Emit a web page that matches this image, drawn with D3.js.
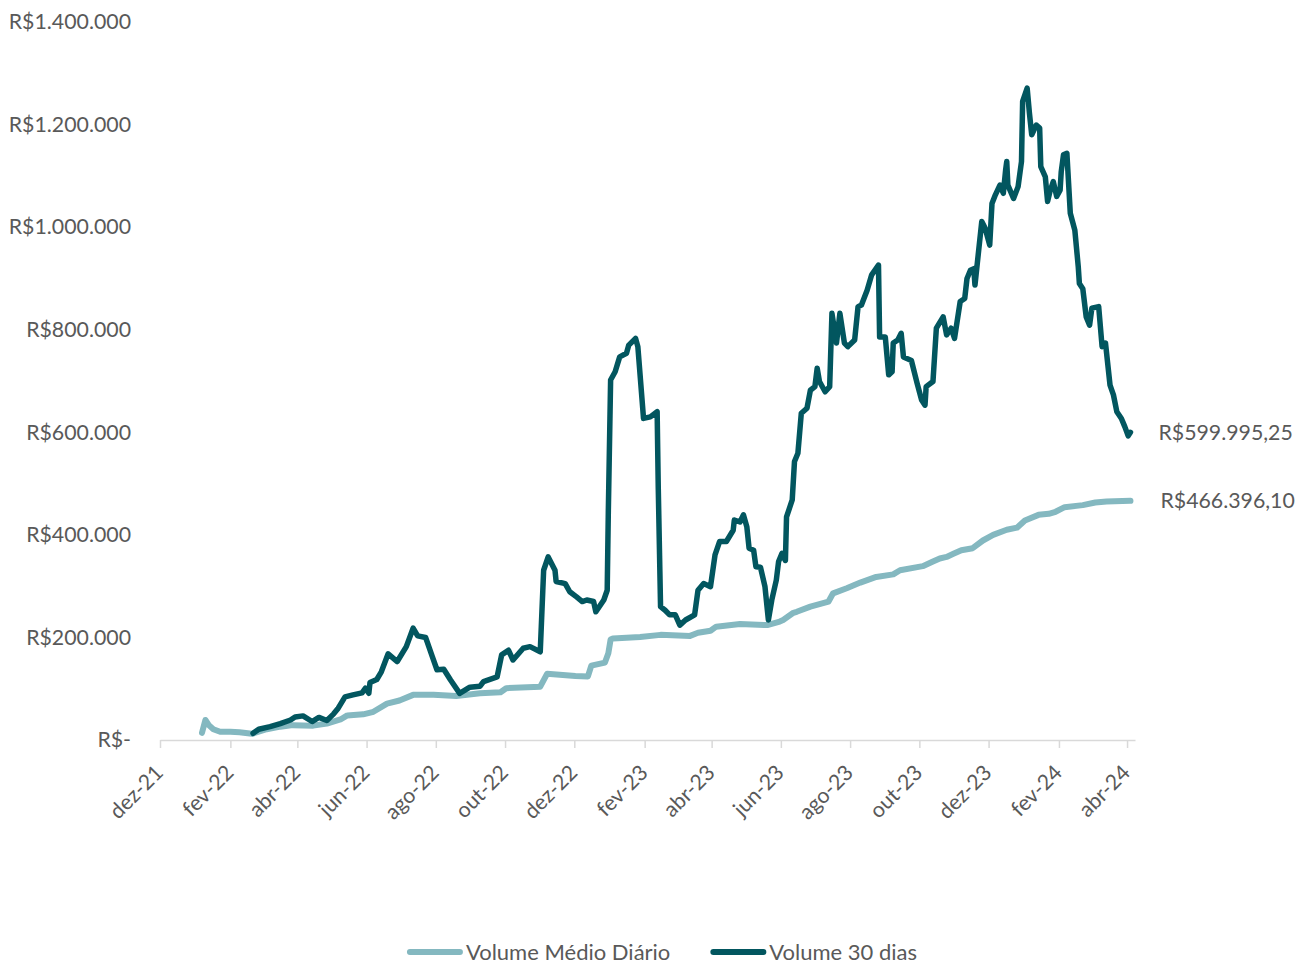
<!DOCTYPE html>
<html>
<head>
<meta charset="utf-8">
<script src="https://cdn.jsdelivr.net/npm/d3@7"></script>
<style>
  body { margin: 0; background: #ffffff; }
  svg text { font-family: Lato, "Open Sans", sans-serif; fill: #595959; }
</style>
</head>
<body>
<svg id="chart" width="1296" height="967"></svg>
<script>
// Series names shown in the legend
const seriesNames = ["Volume Médio Diário", "Volume 30 dias"];

// Volume Médio Diário (R$)
const dailyAvgDates = [
  "2022-01-07","2022-01-10","2022-01-13","2022-01-17","2022-01-23","2022-02-01","2022-02-09","2022-02-20",
  "2022-03-05","2022-03-17","2022-03-28","2022-04-15","2022-04-27","2022-05-09","2022-05-15","2022-05-29",
  "2022-06-07","2022-06-19","2022-06-30","2022-07-12","2022-07-30","2022-08-19","2022-09-09","2022-09-27",
  "2022-10-02","2022-11-01","2022-11-07","2022-12-02","2022-12-13","2022-12-16","2022-12-28","2022-12-31",
  "2023-01-02","2023-01-04","2023-01-28","2023-02-15","2023-03-13","2023-03-20","2023-03-31","2023-04-05",
  "2023-04-26","2023-05-20","2023-05-31","2023-06-03","2023-06-12","2023-06-15","2023-06-27","2023-07-13",
  "2023-07-17","2023-07-29","2023-08-10","2023-08-24","2023-09-08","2023-09-14","2023-10-04","2023-10-13",
  "2023-10-19","2023-10-25","2023-10-31","2023-11-07","2023-11-17","2023-11-26","2023-12-05","2023-12-17",
  "2023-12-26","2024-01-02","2024-01-14","2024-01-23","2024-01-29","2024-02-06","2024-02-22","2024-03-04",
  "2024-03-14","2024-04-04"
];
const dailyAvgValues = [
  14000,39000,29000,21000,16000,16000,15000,12000,
  21000,26000,29000,28000,32000,40000,48000,50000,
  55000,71000,77000,88000,88000,86000,91000,93000,
  101000,104000,129000,125000,124000,145000,151000,169000,
  196000,198000,201000,205000,203000,209000,213000,221000,
  226000,224000,231000,234000,248000,250000,260000,270000,
  286000,296000,307000,318000,323000,331000,339000,348000,
  354000,357000,363000,370000,374000,389000,400000,410000,
  414000,428000,439000,441000,445000,454000,458000,463000,
  465000,466396.10
];

// Volume 30 dias (R$)
const vol30Dates = [
  "2022-02-21","2022-02-26","2022-03-08","2022-03-17","2022-03-26","2022-03-30","2022-04-06","2022-04-14",
  "2022-04-20","2022-04-27","2022-05-03","2022-05-07","2022-05-13","2022-05-20","2022-05-28","2022-05-31",
  "2022-06-03","2022-06-04","2022-06-10","2022-06-14","2022-06-20","2022-06-28","2022-07-06","2022-07-12",
  "2022-07-16","2022-07-23","2022-07-29","2022-08-02","2022-08-08","2022-08-14","2022-08-22","2022-08-31",
  "2022-09-09","2022-09-12","2022-09-24","2022-09-28","2022-10-04","2022-10-08","2022-10-17","2022-10-23",
  "2022-11-01","2022-11-04","2022-11-08","2022-11-14","2022-11-15","2022-11-23","2022-11-27","2022-12-03",
  "2022-12-08","2022-12-12","2022-12-18","2022-12-20","2022-12-27","2022-12-30","2022-12-31","2023-01-02",
  "2023-01-06","2023-01-10","2023-01-16","2023-01-18","2023-01-24","2023-01-26","2023-01-31","2023-02-06",
  "2023-02-12","2023-02-13","2023-02-15","2023-02-19","2023-02-23","2023-02-28","2023-03-04","2023-03-09",
  "2023-03-17","2023-03-20","2023-03-25","2023-03-31","2023-04-04","2023-04-08","2023-04-14","2023-04-20",
  "2023-04-21","2023-04-26","2023-04-29","2023-05-02","2023-05-04","2023-05-08","2023-05-10","2023-05-14",
  "2023-05-18","2023-05-21","2023-05-24","2023-05-28","2023-05-30","2023-06-02","2023-06-05","2023-06-06",
  "2023-06-11","2023-06-13","2023-06-16","2023-06-19","2023-06-24","2023-06-27","2023-07-01","2023-07-03",
  "2023-07-05","2023-07-10","2023-07-14","2023-07-16","2023-07-20","2023-07-23","2023-07-27","2023-07-30",
  "2023-08-05","2023-08-08","2023-08-11","2023-08-16","2023-08-20","2023-08-26","2023-08-27","2023-09-01",
  "2023-09-04","2023-09-07","2023-09-08","2023-09-12","2023-09-15","2023-09-17","2023-09-24","2023-09-29",
  "2023-10-03","2023-10-06","2023-10-07","2023-10-13","2023-10-16","2023-10-22","2023-10-25","2023-10-29",
  "2023-11-01","2023-11-06","2023-11-10","2023-11-12","2023-11-15","2023-11-18","2023-11-19","2023-11-25",
  "2023-11-28","2023-12-02","2023-12-04","2023-12-07","2023-12-11","2023-12-14","2023-12-16","2023-12-17",
  "2023-12-18","2023-12-23","2023-12-27","2023-12-30","2023-12-31","2024-01-04","2024-01-06","2024-01-08",
  "2024-01-12","2024-01-15","2024-01-16","2024-01-20","2024-01-22","2024-01-24","2024-01-27","2024-01-30",
  "2024-02-02","2024-02-03","2024-02-05","2024-02-08","2024-02-11","2024-02-15","2024-02-18","2024-02-19",
  "2024-02-22","2024-02-25","2024-02-28","2024-03-01","2024-03-07","2024-03-10","2024-03-13","2024-03-17",
  "2024-03-20","2024-03-23","2024-03-27","2024-03-30","2024-04-02","2024-04-04"
];
const vol30Values = [
  13000,21000,26000,32000,39000,45000,47000,36000,
  44000,38000,51000,62000,84000,88000,92000,101000,
  91000,112000,118000,133000,168000,153000,182000,218000,
  203000,200000,162000,137000,138000,117000,91000,103000,
  105000,114000,123000,166000,175000,156000,179000,182000,
  172000,331000,357000,331000,309000,305000,289000,279000,
  270000,273000,270000,250000,273000,292000,448000,702000,
  718000,747000,754000,770000,783000,767000,627000,630000,
  640000,490000,260000,253000,244000,244000,224000,234000,
  244000,292000,305000,299000,361000,387000,387000,409000,
  429000,425000,439000,416000,374000,370000,338000,337000,
  299000,234000,273000,312000,348000,364000,350000,435000,
  468000,543000,559000,637000,647000,682000,689000,725000,
  699000,679000,689000,832000,774000,832000,774000,767000,
  780000,845000,848000,877000,907000,926000,786000,786000,
  712000,718000,774000,780000,793000,747000,740000,696000,
  663000,653000,689000,699000,803000,825000,790000,803000,
  783000,855000,861000,900000,916000,919000,887000,1011000,
  998000,965000,1046000,1063000,1082000,1066000,1111000,1128000,
  1082000,1056000,1079000,1128000,1245000,1271000,1222000,1180000,
  1199000,1193000,1118000,1098000,1050000,1069000,1089000,1060000,
  1072000,1108000,1141000,1144000,1027000,994000,923000,890000,
  880000,825000,809000,842000,845000,767000,774000,692000,
  673000,640000,627000,611000,593000,599995.25
];

// Axis ticks
const xTickDates = [
  "2021-12-01","2022-02-01","2022-04-01","2022-06-01","2022-08-01","2022-10-01","2022-12-01",
  "2023-02-01","2023-04-01","2023-06-01","2023-08-01","2023-10-01","2023-12-01","2024-02-01","2024-04-01"
];
const xTickLabels = [
  "dez-21","fev-22","abr-22","jun-22","ago-22","out-22","dez-22",
  "fev-23","abr-23","jun-23","ago-23","out-23","dez-23","fev-24","abr-24"
];
const yTickValues = [0, 200000, 400000, 600000, 800000, 1000000, 1200000, 1400000];

const colorAvg = "#84B8C0";
const color30 = "#02565F";

const parse = d3.utcParse("%Y-%m-%d");
const ptBR = d3.formatLocale({ decimal: ",", thousands: ".", grouping: [3], currency: ["R$", ""] });
const fmtInt = ptBR.format("$,.0f");
const fmtDec = ptBR.format("$,.2f");

const svg = d3.select("#chart");

const x = d3.scaleUtc()
  .domain([parse("2021-12-01"), parse("2024-04-08")])
  .range([160, 1135]);
const y = d3.scaleLinear()
  .domain([0, 1400000])
  .range([740, 22]);

// Y axis: labels only
const yAxis = svg.append("g")
  .attr("transform", "translate(160,0)")
  .call(d3.axisLeft(y).tickValues(yTickValues).tickSize(0).tickPadding(29)
    .tickFormat(d => d === 0 ? "R$-" : fmtInt(d)));
yAxis.select(".domain").remove();
yAxis.selectAll("text").attr("font-size", 21.3).style("font-family", "Lato, 'Open Sans', sans-serif").attr("fill", "#595959");

// X axis with rotated month labels
const xAxis = svg.append("g")
  .attr("transform", "translate(0,740)")
  .call(d3.axisBottom(x).tickValues(xTickDates.map(parse)).tickSize(8).tickSizeOuter(0)
    .tickFormat((d, i) => xTickLabels[i]));
xAxis.select(".domain").attr("stroke", "#D9D9D9").attr("stroke-width", 1.5);
xAxis.selectAll(".tick line").attr("stroke", "#D9D9D9").attr("stroke-width", 1.5);
xAxis.selectAll(".tick text")
  .attr("font-size", 21.3)
  .style("font-family", "Lato, 'Open Sans', sans-serif")
  .attr("fill", "#595959")
  .attr("text-anchor", "end")
  .attr("x", 0).attr("y", 0).attr("dy", 0)
  .attr("transform", "translate(4,34) rotate(-45)");

// Lines
const avgData = dailyAvgDates.map((d, i) => ({ date: parse(d), value: dailyAvgValues[i] }));
const v30Data = vol30Dates.map((d, i) => ({ date: parse(d), value: vol30Values[i] }));

const line = d3.line().x(d => x(d.date)).y(d => y(d.value));

svg.append("path").datum(avgData)
  .attr("d", line).attr("fill", "none")
  .attr("stroke", colorAvg).attr("stroke-width", 6)
  .attr("stroke-linejoin", "round").attr("stroke-linecap", "round");

svg.append("path").datum(v30Data)
  .attr("d", line).attr("fill", "none")
  .attr("stroke", color30).attr("stroke-width", 5.5)
  .attr("stroke-linejoin", "round").attr("stroke-linecap", "round");

// End-of-series value labels
const lastAvg = avgData[avgData.length - 1];
const last30 = v30Data[v30Data.length - 1];
[[last30, 28], [lastAvg, 30]].forEach(([p, dx]) => {
  svg.append("text")
    .attr("x", x(p.date) + dx).attr("y", y(p.value))
    .attr("dy", "0.35em")
    .attr("font-size", 21.3)
    .text(fmtDec(p.value));
});

// Legend
const legend = svg.append("g");
const legendColors = [colorAvg, color30];
let cursor = 0;
seriesNames.forEach((name, i) => {
  const g = legend.append("g");
  g.append("line").attr("x1", 3).attr("x2", 53).attr("y1", 0).attr("y2", 0)
    .attr("stroke", legendColors[i]).attr("stroke-width", 6).attr("stroke-linecap", "round");
  const t = g.append("text").attr("x", 59).attr("dy", "0.35em").attr("font-size", 22).text(name);
  const w = 59 + t.node().getComputedTextLength();
  g.attr("transform", `translate(${cursor},0)`);
  cursor += w + 40;
});
const totalW = cursor - 40;
legend.attr("transform", `translate(${662 - totalW / 2},952)`);
</script>
</body>
</html>
